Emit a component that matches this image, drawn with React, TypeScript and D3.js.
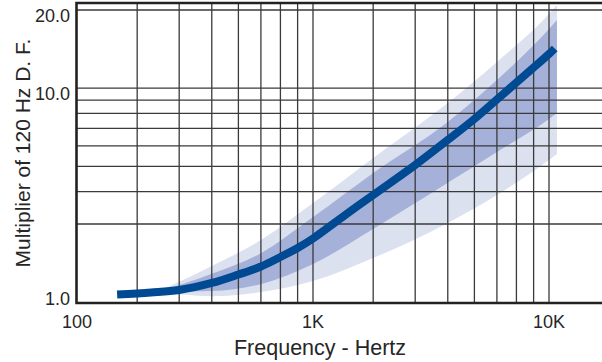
import { useEffect, useRef } from "react";
import * as d3 from "d3";

// D.F. multiplier curve
const curveFreq = [208, 330, 400, 500, 600, 700, 800, 900, 1000, 1800, 3000, 4000, 5000, 6000, 7000, 8000, 9000, 10000, 10400];
const curveMult = [1.125, 1.157, 1.198, 1.321, 1.486, 1.661, 1.896, 2.148, 2.452, 3.25, 3.88, 5.06, 6.32, 7.61, 9.04, 10.52, 12.01, 13.54, 14.22];

// spread bands around the curve
const bandFreq = [345, 500, 700, 1000, 3000, 5000, 7000, 10000, 10560];
const outerLow = [1.165, 1.1, 1.165, 1.358, 1.87, 3.03, 3.88, 5.29, 5.58];
const innerLow = [1.165, 1.18, 1.3, 1.72, 2.8, 4.32, 5.68, 7.61, 8.03];
const innerHigh = [1.165, 1.5, 2.0, 3.19, 4.72, 7.41, 10.75, 16.9, 18.3];
const outerHigh = [1.165, 1.67, 2.4, 3.61, 5.39, 8.77, 12.62, 19.3, 20.9];

// grid and tick labels
const xGrid = [300, 400, 500, 600, 700, 800, 900, 1000, 3000, 4000, 5000, 6000, 7000, 8000, 9000, 10000];
const yGrid = [3, 4, 5, 6, 7, 8, 9, 10, 20];
const xTickValues = [100, 1000, 10000];
const xTickLabels = ["100", "1K", "10K"];
const yTickValues = [1, 10, 20];
const yTickLabels = ["1.0", "10.0", "20.0"];

const WIDTH = 602;
const HEIGHT = 362;
const FONT = "'Liberation Sans', Arial, Helvetica, sans-serif";

export default function App() {
  const svgRef = useRef<SVGSVGElement>(null);

  useEffect(() => {
    if (!svgRef.current) return;
    const svg = d3.select(svgRef.current);
    svg.selectAll("*").remove();

    const left = 77;
    const right = WIDTH;
    const top = 4;
    const bottom = 303;
    const decade = 236;
    const squeeze = 0.255; // the 1..3 part of each decade is drawn narrow

    const upperSlope = ((1 - squeeze) * decade) / Math.log10(10 / 3);
    const x = d3
      .scaleLog()
      .domain([100, 300, 1000, 3000, 10000, 20000])
      .range([
        left,
        left + squeeze * decade,
        left + decade,
        left + (1 + squeeze) * decade,
        left + 2 * decade,
        left + 2 * decade + upperSlope * Math.log10(2),
      ]);

    const y = d3.scaleLog().domain([1, 3, 20]).range([bottom, 224, 10]);

    svg
      .append("defs")
      .append("clipPath")
      .attr("id", "plot-clip")
      .append("rect")
      .attr("x", left)
      .attr("y", top)
      .attr("width", right - left)
      .attr("height", bottom - top);

    const plot = svg.append("g").attr("clip-path", "url(#plot-clip)");

    const bandIdx = d3.range(bandFreq.length);
    const area = (lo: number[], hi: number[]) =>
      d3
        .area<number>()
        .x((i) => x(bandFreq[i]))
        .y0((i) => y(lo[i]))
        .y1((i) => y(hi[i]))
        .curve(d3.curveMonotoneX)(bandIdx);

    plot.append("path").attr("d", area(outerLow, outerHigh)).attr("fill", "#dce1f0");
    plot.append("path").attr("d", area(innerLow, innerHigh)).attr("fill", "#a5b1d8");

    // grid
    svg
      .append("g")
      .selectAll("line")
      .data(xGrid)
      .join("line")
      .attr("x1", (d) => x(d))
      .attr("x2", (d) => x(d))
      .attr("y1", top)
      .attr("y2", bottom)
      .attr("stroke", "#3a3a3a")
      .attr("stroke-width", 1.3);

    svg
      .append("g")
      .selectAll("line")
      .data(yGrid)
      .join("line")
      .attr("x1", left)
      .attr("x2", right)
      .attr("y1", (d) => y(d))
      .attr("y2", (d) => y(d))
      .attr("stroke", "#3a3a3a")
      .attr("stroke-width", 1.3);

    // main curve
    const line = d3
      .line<number>()
      .x((i) => x(curveFreq[i]))
      .y((i) => y(curveMult[i]))
      .curve(d3.curveCatmullRom.alpha(0.5));

    svg
      .append("path")
      .attr("d", line(d3.range(curveFreq.length)))
      .attr("fill", "none")
      .attr("stroke", "#004a93")
      .attr("stroke-width", 8)
      .attr("stroke-linecap", "butt");

    // frame: left, bottom and top
    svg
      .append("path")
      .attr("d", `M${right},${top - 1}H${left - 0.5}V${bottom}H${right}`)
      .attr("fill", "none")
      .attr("stroke", "#222")
      .attr("stroke-width", 2.6);

    // tick labels
    svg
      .append("g")
      .selectAll("text")
      .data(xTickValues)
      .join("text")
      .attr("x", (d) => x(d))
      .attr("y", 328)
      .attr("text-anchor", "middle")
      .attr("font-family", FONT)
      .attr("font-size", 18)
      .attr("fill", "#262626")
      .text((_, i) => xTickLabels[i]);

    svg
      .append("g")
      .selectAll("text")
      .data(yTickValues)
      .join("text")
      .attr("x", 70)
      .attr("y", (d) => Math.min(y(d) + 12, bottom + 2))
      .attr("text-anchor", "end")
      .attr("font-family", FONT)
      .attr("font-size", 18)
      .attr("fill", "#262626")
      .text((_, i) => yTickLabels[i]);

    // axis titles
    svg
      .append("text")
      .attr("x", 320)
      .attr("y", 355)
      .attr("text-anchor", "middle")
      .attr("font-family", FONT)
      .attr("font-size", 21.5)
      .attr("fill", "#262626")
      .text("Frequency - Hertz");

    svg
      .append("text")
      .attr("transform", "translate(30,153) rotate(-90)")
      .attr("text-anchor", "middle")
      .attr("font-family", FONT)
      .attr("font-size", 21)
      .attr("fill", "#262626")
      .text("Multiplier of 120 Hz D. F.");
  }, []);

  return (
    <svg
      ref={svgRef}
      width={WIDTH}
      height={HEIGHT}
      viewBox={`0 0 ${WIDTH} ${HEIGHT}`}
      style={{ position: "absolute", left: 0, top: 0, background: "#fff" }}
    ></svg>
  );
}
